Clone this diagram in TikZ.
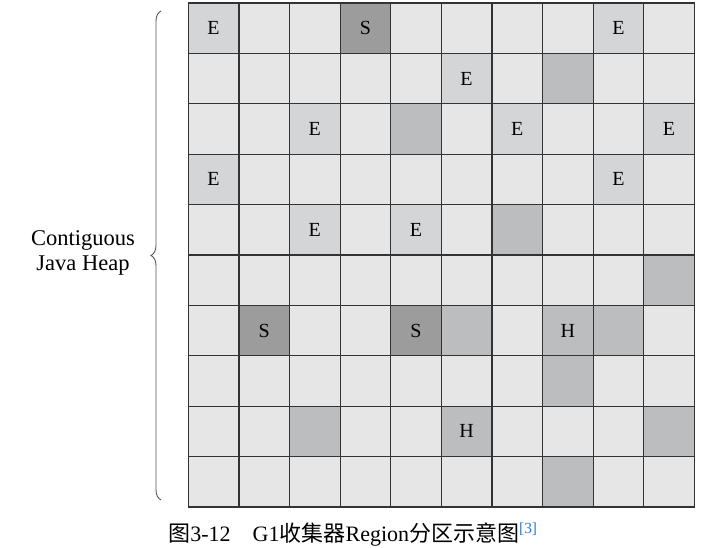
\documentclass[tikz,border=0pt]{standalone}
\usepackage{fontspec}
\setmainfont{Liberation Serif}
\newfontfamily\cjkfont{Noto Sans CJK SC}
\usepackage{xcolor}
\usetikzlibrary{decorations.pathreplacing,positioning}
\definecolor{cellbg}{HTML}{E6E6E6}
\definecolor{edencell}{HTML}{D3D5D6}
\definecolor{humcell}{HTML}{BBBDBF}
\definecolor{survcell}{HTML}{9C9C9C}
\definecolor{gridline}{HTML}{333333}
\definecolor{bracegray}{HTML}{555555}
\definecolor{citeblue}{HTML}{2A7BD6}
\tikzset{
  region/.style={
    rectangle, draw=gridline, fill=#1, line width=1.2pt,
    minimum width=50.6pt, minimum height=50.4pt, inner sep=0pt,
    font=\fontsize{20}{20}\selectfont
  },
  region/.default=cellbg,
  heapbrace/.style={
    decorate, decoration={brace, amplitude=10pt},
    draw=bracegray, line width=0.9pt
  },
  heaplabel/.style={
    align=center, font=\fontsize{22.5}{25}\selectfont
  },
  figcaption/.style={
    font=\fontsize{22}{22}\selectfont, inner sep=0pt
  },
}

\begin{document}
\begin{tikzpicture}[x=1pt, y=-1pt]
\useasboundingbox (0,0) rectangle (704,548);
% all regions of the heap
\foreach \r in {1,...,10}
  \foreach \c in {1,...,10}
    \node[region] (c\r-\c) at ({188.3+(\c-0.5)*50.6}, {3+(\r-0.5)*50.4}) {};
% Eden, Survivor and Humongous regions
\foreach \r/\c/\k/\t in {
    1/1/edencell/E, 1/4/survcell/S, 1/9/edencell/E,
    2/6/edencell/E, 2/8/humcell/,
    3/3/edencell/E, 3/5/humcell/, 3/7/edencell/E, 3/10/edencell/E,
    4/1/edencell/E, 4/9/edencell/E,
    5/3/edencell/E, 5/5/edencell/E, 5/7/humcell/,
    6/10/humcell/,
    7/2/survcell/S, 7/5/survcell/S, 7/6/humcell/, 7/8/humcell/H, 7/9/humcell/,
    8/8/humcell/,
    9/3/humcell/, 9/6/humcell/H, 9/10/humcell/,
    10/8/humcell/}
  \node[region=\k] at (c\r-\c) {\t};

\coordinate (bracebot) at (161,500);
\coordinate (bracetop) at (161,11);
\draw[heapbrace] (bracebot) -- (bracetop);
\node[heaplabel] (heap) at (83,253) {Contiguous\\Java Heap};

\node[figcaption, anchor=base] (caption) at (353,541.5)
  {{\cjkfont 图}3-12\hspace{1em}G1{\cjkfont 收集器}Region{\cjkfont 分区示意图}\textsuperscript{\color{citeblue}[3]}};
\end{tikzpicture}
\end{document}
